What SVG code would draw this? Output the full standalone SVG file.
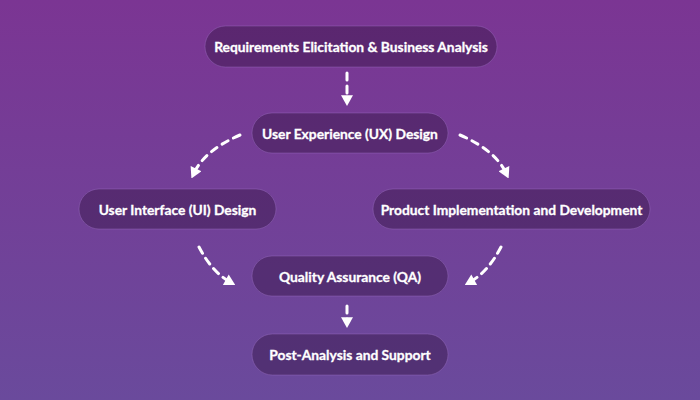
<svg xmlns="http://www.w3.org/2000/svg" width="700" height="400" viewBox="0 0 700 400">
<defs>
<linearGradient id="bg" x1="0" y1="0" x2="0" y2="1">
<stop offset="0" stop-color="#7b3593"/>
<stop offset="1" stop-color="#6a4a9c"/>
</linearGradient>
<marker id="ah" viewBox="0 0 10 10" refX="5" refY="5" markerWidth="4" markerHeight="4" orient="auto" markerUnits="strokeWidth">
<path d="M1,0 L10,5 L1,10 Z" fill="#ffffff"/>
</marker>
<style>
.node rect{fill:#2d0f3a;fill-opacity:0.4;stroke:#a77ccf;stroke-opacity:0.35;stroke-width:1}
.node text{font-family:Lato,"Open Sans","Noto Sans",sans-serif;font-weight:700;font-size:13.8px;fill:#ffffff;text-anchor:middle;dominant-baseline:central;stroke:#ffffff;stroke-width:0.3}
.edge{fill:none;stroke:#ffffff;stroke-width:3;stroke-dasharray:7 6;stroke-linecap:round;marker-end:url(#ah)}
</style>
</defs>
<rect width="700" height="400" fill="url(#bg)"/>
<g id="connectors">
<path class="edge" d="M347,73 L347,100"/>
<path class="edge" d="M240,135 Q205,150 194,173"/>
<path class="edge" d="M460,135 Q495,150 506,173"/>
<path class="edge" d="M199,247 Q212,272 230,282"/>
<path class="edge" d="M501,247 Q488,272 470,282"/>
<path class="edge" d="M347,306 L347,322"/>
</g>
<g id="n1" class="node"><rect x="205" y="26" width="292" height="41" rx="20.5"/><text x="351" y="46.5">Requirements Elicitation &amp; Business Analysis</text></g>
<g id="n2" class="node"><rect x="252" y="113" width="196" height="40" rx="20"/><text x="350" y="133">User Experience (UX) Design</text></g>
<g id="n3" class="node"><rect x="79" y="189" width="197" height="40" rx="20"/><text x="177.5" y="209">User Interface (UI) Design</text></g>
<g id="n4" class="node"><rect x="373" y="189" width="277" height="40" rx="20"/><text x="511.5" y="209">Product Implementation and Development</text></g>
<g id="n5" class="node"><rect x="252" y="256" width="196" height="40" rx="20"/><text x="350" y="276">Quality Assurance (QA)</text></g>
<g id="n6" class="node"><rect x="252" y="334" width="196" height="41" rx="20.5"/><text x="350" y="354.5">Post-Analysis and Support</text></g>
</svg>
